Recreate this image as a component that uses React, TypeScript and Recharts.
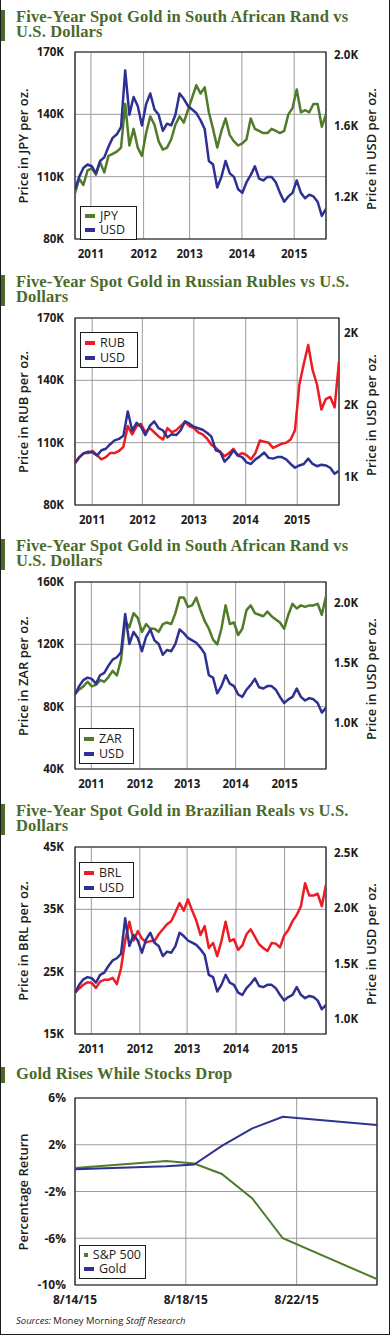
import React from 'react';
import {
  LineChart,
  Line,
  XAxis,
  YAxis,
  CartesianGrid,
  Legend,
  ReferenceArea,
} from 'recharts';

const GREEN = '#4f7b2b';
const BLUE = '#2e3192';
const RED = '#ec1c24';
const TITLE_GREEN = '#4a6a2a';
const INK = '#1c1c1c';

// spot gold in USD (thousands), roughly one point a month, Aug 2010 - Aug 2015
const usd = [
  1.24, 1.31, 1.36, 1.38, 1.37, 1.33, 1.4, 1.42, 1.48, 1.53,
  1.55, 1.59, 1.91, 1.66, 1.76, 1.71, 1.6, 1.72, 1.78, 1.69,
  1.66, 1.57, 1.61, 1.6, 1.66, 1.78, 1.75, 1.71, 1.69, 1.67,
  1.63, 1.58, 1.4, 1.38, 1.25, 1.31, 1.4, 1.33, 1.31, 1.24,
  1.22, 1.28, 1.32, 1.37, 1.3, 1.29, 1.31, 1.31, 1.28, 1.22,
  1.17, 1.2, 1.22, 1.29, 1.22, 1.19, 1.21, 1.2, 1.17, 1.09,
  1.13,
];

// same dates, local currency (thousands)
const jpy = [
  102, 109, 106, 113, 114, 111, 117, 112, 120, 121,
  122, 124, 145, 125, 133, 124, 120, 131, 139, 135,
  127, 123, 124, 128, 135, 139, 136, 142, 148, 154,
  150, 153, 141, 133, 124, 132, 138, 130, 127, 125,
  126, 128, 138, 133, 132, 131, 131, 133, 132, 131,
  132, 140, 143, 152, 141, 142, 141, 145, 145, 134,
  140,
];

const rub = [
  100, 103, 105, 105, 106, 104, 102, 103, 105, 105,
  106, 108, 118, 114, 118, 119, 115, 117, 115, 113,
  111.5, 117, 115, 116, 118, 120, 118, 117, 115, 114,
  112, 109, 107.5, 105.5, 103.5, 105, 107, 104, 105, 104,
  102, 105, 111, 110.5, 110, 107.5, 108.5, 109.5, 110, 111.5,
  116, 138, 148, 157, 145, 138, 126, 131, 132, 127,
  149,
];

const zar = [
  88, 91, 93, 96, 93, 94, 97, 96, 99, 103,
  100, 110, 135, 131, 140, 137, 128, 133, 130, 130,
  128, 133, 134, 133, 140, 150, 150, 144, 145, 150,
  142, 135, 130, 123, 120, 130, 145, 133, 134, 126,
  130, 142, 145, 140, 139, 138, 141, 138, 136, 134,
  130, 139, 146, 143, 145, 144, 145, 145, 146, 139,
  151,
];

const brl = [
  21.6, 22.3, 22.9, 23.3, 23.2, 22.4, 23.4, 23.7, 23.7, 24.0,
  23.0, 25.5, 30, 33, 30, 31.5, 30.3, 29.7, 29.9, 29.9,
  31, 31.8, 32.6, 33.1, 34.5, 36, 34.8, 36.6, 34.8, 33.2,
  30.9, 32.3, 28.8, 29.6, 27.5, 29.9, 33, 29.9, 30.2, 28.5,
  29.2, 31, 31.8, 30.6, 29.4, 28.8, 28.3, 29.6, 29.5, 28.9,
  30.8, 31.7, 33.1, 34.1, 35.5, 39.2, 37.2, 37.2, 37.5, 35.5,
  39,
];

const yearLabels = ['2011', '2012', '2013', '2014', '2015'];
// the year gridlines sit slightly differently on each panel (in point index)
const jpyYearTicks = [3.8, 16.4, 27.4, 39.9, 52.4];
const rubYearTicks = [3.9, 15.3, 27.0, 38.8, 50.5];
const zarYearTicks = [3.9, 15.5, 26.8, 38.4, 50.1];
const brlYearTicks = [3.9, 15.5, 26.8, 38.5, 50.1];

// last chart: percentage return by day of August 2015
const days = [14, 17.3, 18.3, 19.3, 20.4, 21.5, 24.9];
const sp500 = [0, 0.6, 0.4, -0.5, -2.6, -6.0, -9.5];
const goldReturn = [-0.1, 0.15, 0.3, 1.9, 3.4, 4.4, 3.7];
const dayTicks = [14, 18, 22];
const dayLabels = ['8/14/15', '8/18/15', '8/22/15'];

const rows = usd.map((u, i) => ({ i, usd: u, jpy: jpy[i], rub: rub[i], zar: zar[i], brl: brl[i] }));
const returnRows = days.map((d, k) => ({ d, sp: sp500[k], gold: goldReturn[k] }));

const tickStyle = { fontSize: 11.5, fontWeight: 700, fill: INK, fontFamily: "'Open Sans', sans-serif" };

type Series = { key: string; name: string; color: string; axis: 'left' | 'right' };

function VLabel({ x, y, text }: { x: number; y: number; text: string }) {
  return (
    <div style={{ position: 'absolute', left: x, top: y, width: 0, height: 0 }}>
      <span
        style={{
          position: 'absolute',
          left: 0,
          top: 0,
          whiteSpace: 'nowrap',
          fontSize: 13,
          fontWeight: 600,
          color: INK,
          transform: 'translate(-50%, -50%) rotate(-90deg)',
        }}
      >
        {text}
      </span>
    </div>
  );
}

// title: serif, two tight lines, green tab on the left edge
function Title({ top, lines }: { top: number; lines: string[] }) {
  return (
    <>
      <div
        style={{
          position: 'absolute',
          left: 0,
          top: top + 1,
          width: 4,
          height: lines.length * 15 + 1,
          background: TITLE_GREEN,
        }}
      />
      {lines.map((l, k) => (
        <div
          key={l}
          style={{
            position: 'absolute',
            left: 15,
            top: top + k * 15,
            fontFamily: "'Liberation Serif', serif",
            fontWeight: 700,
            fontSize: 16.5,
            letterSpacing: 0.15,
            lineHeight: '15px',
            height: 15,
            color: TITLE_GREEN,
            whiteSpace: 'nowrap',
          }}
        >
          {l}
        </div>
      ))}
    </>
  );
}

function legendContent(series: Series[], width: number, rowH: number) {
  return () => (
    <div
      style={{
        width,
        boxSizing: 'border-box',
        border: `1px solid ${INK}`,
        background: '#fff',
        padding: '2px 4px',
        fontSize: 12.5,
        lineHeight: `${rowH}px`,
        color: INK,
      }}
    >
      {series.map((s) => (
        <div key={s.key} style={{ display: 'flex', alignItems: 'center', whiteSpace: 'nowrap' }}>
          <span style={{ display: 'inline-block', width: 10, height: 4, background: s.color, marginRight: 5 }} />
          {s.name}
        </div>
      ))}
    </div>
  );
}

interface PanelProps {
  top: number;
  rightEdge: number;
  rightWidth: number;
  rightGap: number;
  series: Series[];
  leftDomain: [number, number];
  leftTicks: number[];
  rightDomain: [number, number];
  rightTicks: number[];
  rightLabels: string[];
  yearTicks: number[];
  leftTitle: string;
  legend: { x: number; y: number; w: number; rowH: number };
}

function GoldPanel(p: PanelProps) {
  const H = 226;
  const plotTop = p.top + 8;
  const plotBottom = p.top + H - 31;
  const midY = (plotTop + plotBottom) / 2;
  return (
    <>
      <div style={{ position: 'absolute', left: 0, top: p.top, width: 390, height: H }}>
        <LineChart
          width={390}
          height={H}
          data={rows}
          margin={{ top: 8, right: 390 - p.rightEdge - p.rightWidth, bottom: 1, left: 14 }}
        >
          <CartesianGrid yAxisId="left" stroke="#9c9c9c" strokeWidth={1} />
          <XAxis
            dataKey="i"
            type="number"
            domain={[0, 60]}
            ticks={p.yearTicks}
            interval={0}
            tickFormatter={(v: number) => yearLabels[p.yearTicks.indexOf(v)]}
            tickLine={false}
            axisLine={false}
            tickSize={0}
            tickMargin={11}
            tick={tickStyle}
            height={30}
            allowDataOverflow
          />
          <YAxis
            yAxisId="left"
            type="number"
            domain={p.leftDomain}
            ticks={p.leftTicks}
            interval={0}
            tickFormatter={(v: number) => `${v}K`}
            tickLine={false}
            axisLine={false}
            tickSize={0}
            tickMargin={11}
            tick={tickStyle}
            width={60}
            allowDataOverflow
          />
          <YAxis
            yAxisId="right"
            orientation="right"
            type="number"
            domain={p.rightDomain}
            ticks={p.rightTicks}
            interval={0}
            tickFormatter={(v: number) => p.rightLabels[p.rightTicks.indexOf(v)]}
            tickLine={false}
            axisLine={false}
            tickSize={0}
            tickMargin={p.rightGap}
            tick={{ ...tickStyle, textAnchor: 'start' }}
            width={p.rightWidth}
            allowDataOverflow
          />
          <ReferenceArea
            yAxisId="left"
            x1={0}
            x2={60}
            y1={p.leftDomain[0]}
            y2={p.leftDomain[1]}
            fill="none"
            fillOpacity={0}
            stroke={INK}
            strokeWidth={1.2}
            ifOverflow="visible"
          />
          {p.series.map((s) => (
            <Line
              key={s.key}
              yAxisId={s.axis}
              dataKey={s.key}
              name={s.name}
              stroke={s.color}
              strokeWidth={2.5}
              strokeLinejoin="round"
              dot={false}
              activeDot={false}
              isAnimationActive={false}
            />
          ))}
          <Legend
            layout="vertical"
            align="center"
            verticalAlign="middle"
            content={legendContent(p.series, p.legend.w, p.legend.rowH)}
            wrapperStyle={{ left: p.legend.x, top: p.legend.y - p.top, width: p.legend.w, height: 'auto' }}
          />
        </LineChart>
      </div>
      <VLabel x={22} y={midY} text={p.leftTitle} />
      <VLabel x={370} y={midY + 3} text="Price in USD per oz." />
    </>
  );
}

export default function App() {
  const usdSeries: Series = { key: 'usd', name: 'USD', color: BLUE, axis: 'right' };
  return (
    <div
      style={{
        position: 'absolute',
        left: 0,
        top: 0,
        width: 390,
        height: 1335,
        boxSizing: 'border-box',
        background: '#fff',
        borderLeft: `1px solid ${INK}`,
        borderRight: `1.5px solid ${INK}`,
        borderBottom: `1.5px solid ${INK}`,
        fontFamily: "'Open Sans', sans-serif",
        overflow: 'hidden',
      }}
    >
      <Title top={9} lines={['Five-Year Spot Gold in South African Rand vs', 'U.S. Dollars']} />
      <GoldPanel
        top={44}
        rightEdge={325}
        rightWidth={50}
        rightGap={8}
        series={[{ key: 'jpy', name: 'JPY', color: GREEN, axis: 'left' }, usdSeries]}
        leftDomain={[80, 170]}
        leftTicks={[80, 110, 140, 170]}
        rightDomain={[0.96, 2.014]}
        rightTicks={[1.2, 1.6, 2.0]}
        rightLabels={['1.2K', '1.6K', '2.0K']}
        yearTicks={jpyYearTicks}
        leftTitle="Price in JPY per oz."
        legend={{ x: 79, y: 206, w: 57, rowH: 14 }}
      />

      <Title top={274} lines={['Five-Year Spot Gold in Russian Rubles vs U.S.', 'Dollars']} />
      <GoldPanel
        top={310}
        rightEdge={338}
        rightWidth={45}
        rightGap={5}
        series={[{ key: 'rub', name: 'RUB', color: RED, axis: 'left' }, usdSeries]}
        leftDomain={[80, 170]}
        leftTicks={[80, 110, 140, 170]}
        rightDomain={[0.68, 3.14]}
        rightTicks={[1.05, 2.0, 2.95]}
        rightLabels={['1K', '2K', '2K']}
        yearTicks={rubYearTicks}
        leftTitle="Price in RUB per oz."
        legend={{ x: 79, y: 332, w: 58, rowH: 15 }}
      />

      <Title top={538} lines={['Five-Year Spot Gold in South African Rand vs', 'U.S. Dollars']} />
      <GoldPanel
        top={574}
        rightEdge={325}
        rightWidth={50}
        rightGap={8}
        series={[{ key: 'zar', name: 'ZAR', color: GREEN, axis: 'left' }, usdSeries]}
        leftDomain={[40, 160]}
        leftTicks={[40, 80, 120, 160]}
        rightDomain={[0.621, 2.175]}
        rightTicks={[1.0, 1.5, 2.0]}
        rightLabels={['1.0K', '1.5K', '2.0K']}
        yearTicks={zarYearTicks}
        leftTitle="Price in ZAR per oz."
        legend={{ x: 78, y: 728, w: 55, rowH: 15 }}
      />

      <Title top={803} lines={['Five-Year Spot Gold in Brazilian Reals vs U.S.', 'Dollars']} />
      <GoldPanel
        top={839}
        rightEdge={325}
        rightWidth={50}
        rightGap={8}
        series={[{ key: 'brl', name: 'BRL', color: RED, axis: 'left' }, usdSeries]}
        leftDomain={[15, 45]}
        leftTicks={[15, 25, 35, 45]}
        rightDomain={[0.867, 2.553]}
        rightTicks={[1.0, 1.5, 2.0, 2.5]}
        rightLabels={['1.0K', '1.5K', '2.0K', '2.5K']}
        yearTicks={brlYearTicks}
        leftTitle="Price in BRL per oz."
        legend={{ x: 78, y: 862, w: 55, rowH: 15 }}
      />

      <Title top={1066} lines={['Gold Rises While Stocks Drop']} />
      <div style={{ position: 'absolute', left: 0, top: 1090, width: 390, height: 225 }}>
        <LineChart width={390} height={225} data={returnRows} margin={{ top: 8, right: 14, bottom: 0, left: 14 }}>
          <CartesianGrid stroke="#9c9c9c" strokeWidth={1} />
          <XAxis
            dataKey="d"
            type="number"
            domain={[14, 24.9]}
            ticks={dayTicks}
            interval={0}
            tickFormatter={(v: number) => dayLabels[dayTicks.indexOf(v)]}
            tickLine={false}
            axisLine={false}
            tickSize={0}
            tickMargin={10}
            tick={{ ...tickStyle, fontSize: 12 }}
            height={30}
            allowDataOverflow
          />
          <YAxis
            type="number"
            domain={[-10, 6]}
            ticks={[-10, -6, -2, 2, 6]}
            interval={0}
            tickFormatter={(v: number) => `${v}%`}
            tickLine={false}
            axisLine={false}
            tickSize={0}
            tickMargin={9}
            tick={{ ...tickStyle, fontSize: 12 }}
            width={60}
          />
          <ReferenceArea
            x1={14}
            x2={24.9}
            y1={-10}
            y2={6}
            fill="none"
            fillOpacity={0}
            stroke={INK}
            strokeWidth={1.2}
            ifOverflow="visible"
          />
          <Line dataKey="sp" name="S&P 500" stroke={GREEN} strokeWidth={2} dot={false} activeDot={false} isAnimationActive={false} />
          <Line dataKey="gold" name="Gold" stroke={BLUE} strokeWidth={2} dot={false} activeDot={false} isAnimationActive={false} />
          <Legend
            layout="vertical"
            align="center"
            verticalAlign="middle"
            content={legendContent(
              [
                { key: 'sp', name: 'S&P 500', color: GREEN, axis: 'left' },
                { key: 'gold', name: 'Gold', color: BLUE, axis: 'left' },
              ],
              67,
              14
            )}
            wrapperStyle={{ left: 78, top: 1245 - 1090, width: 67, height: 'auto' }}
          />
        </LineChart>
      </div>
      <VLabel x={22} y={1192} text="Percentage Return" />

      <div style={{ position: 'absolute', left: 15, top: 1315, fontSize: 9.5, lineHeight: '12px', color: INK, whiteSpace: 'nowrap' }}>
        <i>Sources:</i> Money Morning <i>Staff Research</i>
      </div>
    </div>
  );
}
